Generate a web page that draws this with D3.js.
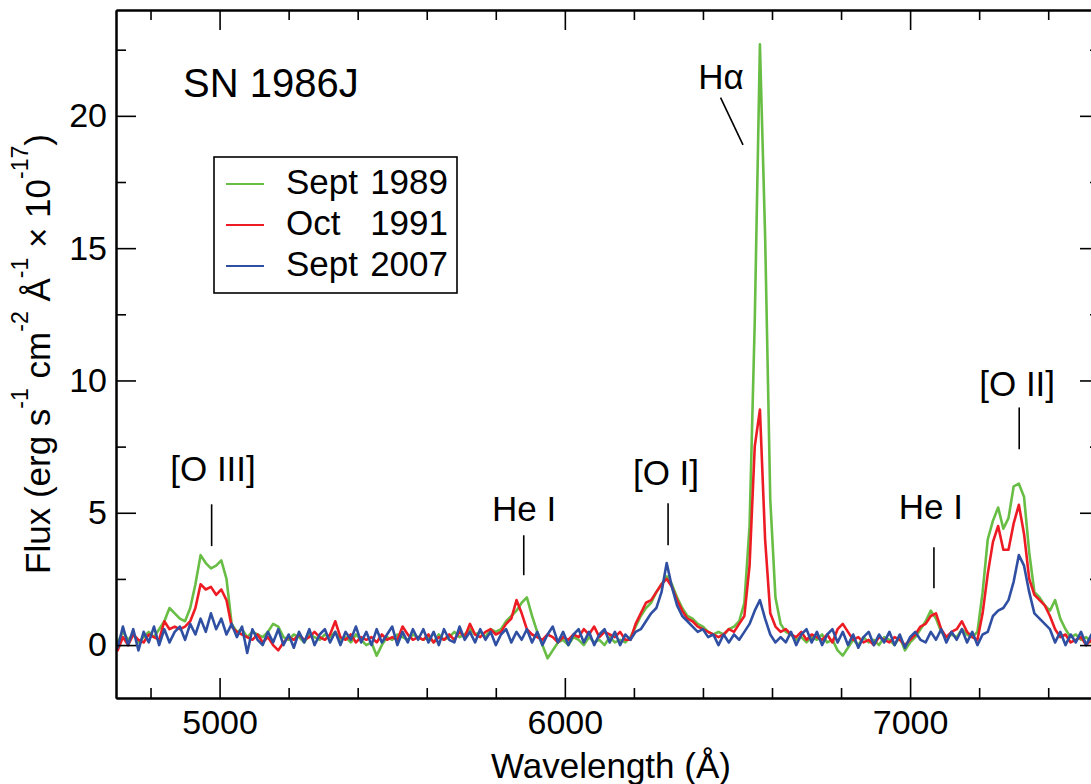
<!DOCTYPE html>
<html>
<head>
<meta charset="utf-8">
<script src="https://cdn.jsdelivr.net/npm/d3@7"></script>
<style>
  body { margin: 0; background: #fff; }
  svg { display: block; font-family: "Liberation Sans", Arial, Helvetica, sans-serif; }
</style>
</head>
<body>
<div id="chart"></div>
<script>
// wavelength grid (Å)
var wavelength = [
  4690,4705,4720,4735,4750,4765,4780,4795,4810,4825,
  4840,4855,4870,4885,4900,4915,4930,4945,4960,4975,
  4990,5005,5020,5035,5050,5065,5080,5095,5110,5125,
  5140,5155,5170,5185,5200,5215,5230,5245,5260,5275,
  5290,5305,5320,5335,5350,5365,5380,5395,5410,5425,
  5440,5455,5470,5485,5500,5515,5530,5545,5560,5575,
  5590,5605,5620,5635,5650,5665,5680,5695,5710,5725,
  5740,5755,5770,5785,5800,5815,5830,5845,5860,5875,
  5890,5905,5920,5935,5950,5965,5980,5995,6010,6025,
  6040,6055,6070,6085,6100,6115,6130,6145,6160,6175,
  6190,6205,6220,6235,6250,6265,6280,6295,6310,6325,
  6340,6355,6370,6385,6400,6415,6430,6445,6460,6475,
  6490,6505,6520,6535,6550,6565,6580,6595,6610,6625,
  6640,6655,6670,6685,6700,6715,6730,6745,6760,6775,
  6790,6805,6820,6835,6850,6865,6880,6895,6910,6925,
  6940,6955,6970,6985,7000,7015,7030,7045,7060,7075,
  7090,7105,7120,7135,7150,7165,7180,7195,7210,7225,
  7240,7255,7270,7285,7300,7315,7330,7345,7360,7375,
  7390,7405,7420,7435,7450,7465,7480,7495,7510,7525,
  7540,7555
];

// flux (erg s-1 cm-2 Å-1 x 1e-17)
var sept1989 = [
  0.3,0.1,0.5,0.2,0.4,0.1,0.3,0.5,0.3,0.6,
  0.9,1.4,1.2,1.0,0.9,1.4,2.3,3.4,3.1,2.9,
  3.0,3.2,2.5,0.8,0.5,0.6,0.3,0.5,0.4,0.3,
  0.5,0.8,0.7,0.3,0.2,0.4,0.3,0.1,0.4,0.3,
  0.2,0.4,0.3,0.5,0.2,0.3,0.1,0.4,0.2,0.0,
  0.1,-0.4,0.0,0.3,0.2,0.4,0.3,0.2,0.4,0.3,
  0.2,0.3,0.1,0.4,0.2,0.3,0.5,0.3,0.4,0.6,
  0.4,0.5,0.3,0.6,0.5,0.6,0.9,1.1,1.3,1.6,
  1.8,1.1,0.5,0.0,-0.5,-0.2,0.1,0.2,0.0,0.3,
  0.2,0.0,0.3,0.1,0.2,0.0,0.3,0.1,0.2,0.1,
  0.3,0.7,1.1,1.4,1.6,2.0,2.3,2.6,2.3,1.8,
  1.4,1.1,1.0,0.8,0.7,0.5,0.4,0.5,0.4,0.6,
  0.7,0.9,1.6,4.5,12.2,22.7,15.5,5.5,1.8,0.8,
  0.5,0.4,0.2,0.3,0.1,0.3,0.2,0.4,0.1,0.2,
  -0.2,-0.4,-0.1,0.2,0.0,0.3,0.1,0.2,0.0,0.3,
  0.2,0.0,0.3,-0.2,0.1,0.3,0.6,0.9,1.3,1.0,
  0.5,0.3,0.4,0.3,0.6,0.4,0.3,0.5,2.0,4.0,
  4.7,5.2,4.4,4.8,6.0,6.1,5.6,3.5,2.0,1.8,
  1.5,1.3,1.7,1.0,0.6,0.3,0.4,0.2,0.3,0.1,
  0.3,0.2
];
var oct1991 = [
  0.1,-0.2,0.3,0.0,0.4,0.2,0.1,0.4,0.3,0.2,
  0.9,0.6,0.7,0.6,0.7,0.9,1.4,2.3,2.1,2.2,
  1.9,2.1,1.7,0.7,0.5,0.4,0.3,0.2,0.4,0.1,
  0.3,0.0,-0.2,0.1,0.3,0.2,0.4,0.2,0.3,0.5,
  0.3,0.2,0.4,0.9,0.3,0.2,0.4,0.1,0.3,0.2,
  0.3,0.1,0.4,0.2,0.3,0.2,0.7,0.4,0.2,0.3,
  0.2,0.4,0.1,0.3,0.2,0.4,0.2,0.5,0.3,0.8,
  0.4,0.3,0.5,0.6,0.4,0.5,0.8,1.0,1.7,1.2,
  0.6,0.4,0.3,0.2,0.4,0.3,0.1,0.3,0.2,0.4,
  0.3,0.6,0.4,0.7,0.3,0.5,0.4,0.3,0.5,0.2,
  0.2,0.8,1.2,1.6,1.7,2.0,2.3,2.5,2.2,1.7,
  1.3,1.0,0.9,0.7,0.6,0.5,0.4,0.3,0.4,0.6,
  0.5,0.8,1.1,3.0,7.5,8.9,4.0,1.2,0.7,0.5,
  0.6,0.4,0.3,0.5,0.2,0.4,0.3,0.2,0.4,0.1,
  0.6,0.8,0.5,0.2,0.3,0.1,0.2,0.0,0.3,0.2,
  0.1,0.3,0.2,0.0,0.2,0.4,0.7,0.8,1.1,1.2,
  0.6,0.3,0.5,0.6,0.9,0.5,0.3,0.2,1.2,2.7,
  3.9,4.5,3.6,3.6,4.6,5.3,4.2,2.5,1.9,1.7,
  1.5,1.1,0.6,0.3,0.4,0.1,0.2,0.3,0.0,0.2,
  0.1,0.3
];
var sept2007 = [
  0.5,-0.1,0.7,0.0,0.6,-0.2,0.5,0.1,0.7,0.0,
  0.6,0.1,0.5,0.7,0.2,0.8,0.4,1.0,0.5,1.2,
  0.6,1.0,0.4,0.8,0.3,0.7,-0.3,0.6,0.2,0.0,
  0.5,0.1,0.6,0.0,0.4,-0.1,0.5,0.1,0.6,0.0,
  0.4,0.6,0.1,0.5,0.0,0.5,0.2,0.7,0.1,0.5,
  0.0,0.6,0.1,0.4,0.7,0.0,0.5,0.1,0.6,0.2,
  0.6,0.1,0.5,0.0,0.6,0.2,0.1,0.7,0.2,0.5,
  0.1,0.6,0.2,0.5,0.0,0.4,0.6,0.1,0.5,0.2,
  0.6,0.1,0.5,0.0,0.4,0.7,0.1,0.5,0.0,0.4,
  0.6,0.1,0.5,0.0,0.4,0.6,0.1,0.5,0.0,0.4,
  0.2,0.5,0.6,0.9,1.2,1.4,2.0,3.1,2.2,1.5,
  1.1,0.9,0.7,0.5,0.6,0.3,0.4,0.0,0.4,0.1,
  0.4,0.2,0.5,0.8,1.3,1.7,1.0,0.4,0.1,0.3,
  0.1,0.5,0.0,0.4,0.6,0.1,0.5,0.0,0.4,0.6,
  0.1,0.5,0.0,0.4,-0.1,0.3,0.5,0.0,0.4,0.1,
  0.5,0.0,0.4,-0.1,0.3,0.5,0.2,0.1,0.5,0.2,
  0.6,0.1,0.5,0.2,0.6,0.1,0.5,0.0,0.4,0.5,
  1.1,1.3,1.4,1.7,2.4,3.4,3.0,2.0,1.2,1.0,
  0.8,0.6,0.1,0.5,0.0,0.4,0.1,0.5,0.0,0.4,
  0.1,-0.1
];

var legendMonths = ["Sept", "Oct", "Sept"];
var legendYears = ["1989", "1991", "2007"];
var seriesColors = ["#68bd45", "#ed1c24", "#2f4fa2"];

var xMajor = [5000, 6000, 7000];
var xMinor = [4800, 5200, 5400, 5600, 5800, 6200, 6400, 6600, 6800, 7200, 7400];
var yMajor = [0, 5, 10, 15, 20];
var yMinor = [2.5, 7.5, 12.5, 17.5, 22.5];

// line identifications: label, label position, marker line (data units)
var lineIds = [
  {label: "[O III]", lx: 4981, ly: 6.19, x1: 4977, y1: 5.32, x2: 4977, y2: 3.74},
  {label: "He I",    lx: 5882, ly: 4.68, x1: 5881, y1: 4.15, x2: 5881, y2: 2.64},
  {label: "[O I]",   lx: 6293, ly: 6.04, x1: 6299, y1: 5.36, x2: 6299, y2: 3.77},
  {label: "H\u03b1", lx: 6452, ly: 21.0, x1: 6451, y1: 20.69, x2: 6516, y2: 18.9},
  {label: "He I",    lx: 7060, ly: 4.75, x1: 7069, y1: 3.7,  x2: 7069, y2: 2.15},
  {label: "[O II]",  lx: 7310, ly: 9.43, x1: 7316, y1: 8.98, x2: 7316, y2: 7.4}
];

var W = 1091, H = 784;
var margin = {top: 10, right: -9, bottom: 86, left: 116},
    width = W - margin.left - margin.right,
    height = H - margin.top - margin.bottom;

var svg = d3.select("#chart")
  .append("svg")
    .attr("width", W)
    .attr("height", H)
  .append("g")
    .attr("transform", "translate(" + margin.left + "," + margin.top + ")");

var x = d3.scaleLinear().domain([4700, 7550]).range([0, width]);
var y = d3.scaleLinear().domain([-2, 24]).range([height, 0]);

svg.append("defs").append("clipPath").attr("id", "plotclip")
  .append("rect").attr("width", width).attr("height", height);

// spectra
var series = [sept1989, oct1991, sept2007];
var line = d3.line()
  .x(function(d) { return x(d[0]); })
  .y(function(d) { return y(d[1]); });

svg.append("g")
    .attr("clip-path", "url(#plotclip)")
  .selectAll("path")
  .data(series)
  .enter()
  .append("path")
    .attr("d", function(s) { return line(wavelength.map(function(w, i) { return [w, s[i]]; })); })
    .attr("fill", "none")
    .attr("stroke", function(s, i) { return seriesColors[i]; })
    .attr("stroke-width", 2.6)
    .attr("stroke-linejoin", "round");

// axes, ticks all pointing inwards
function styleAxis(g, labels) {
  g.select(".domain").attr("stroke-width", 2);
  g.selectAll(".tick line").attr("stroke-width", 1.6);
  g.selectAll(".tick text").attr("font-size", 34).attr("fill", "#000");
  if (!labels) g.selectAll(".tick text").remove();
}

svg.append("g")
    .attr("transform", "translate(0," + height + ")")
    .call(d3.axisBottom(x).tickValues(xMajor).tickSize(-20).tickSizeOuter(0).tickPadding(12).tickFormat(d3.format("d")))
    .call(styleAxis, true);
svg.append("g")
    .attr("transform", "translate(0," + height + ")")
    .call(d3.axisBottom(x).tickValues(xMinor).tickSize(-10).tickSizeOuter(0))
    .call(styleAxis, false);
svg.append("g")
    .call(d3.axisTop(x).tickValues(xMajor).tickSize(-20).tickSizeOuter(0))
    .call(styleAxis, false);
svg.append("g")
    .call(d3.axisTop(x).tickValues(xMinor).tickSize(-10).tickSizeOuter(0))
    .call(styleAxis, false);

svg.append("g")
    .call(d3.axisLeft(y).tickValues(yMajor).tickSize(-20).tickSizeOuter(0).tickPadding(9))
    .call(styleAxis, true);
svg.append("g")
    .call(d3.axisLeft(y).tickValues(yMinor).tickSize(-10).tickSizeOuter(0))
    .call(styleAxis, false);
svg.append("g")
    .attr("transform", "translate(" + width + ",0)")
    .call(d3.axisRight(y).tickValues(yMajor).tickSize(-20).tickSizeOuter(0))
    .call(styleAxis, false);
svg.append("g")
    .attr("transform", "translate(" + width + ",0)")
    .call(d3.axisRight(y).tickValues(yMinor).tickSize(-10).tickSizeOuter(0))
    .call(styleAxis, false);

// axis titles
svg.append("text")
    .attr("x", 495)
    .attr("y", height + 80)
    .attr("text-anchor", "middle")
    .attr("font-size", 35)
    .text("Wavelength (\u00c5)");

var ylab = svg.append("text")
    .attr("transform", "translate(" + (50 - margin.left) + "," + 344 + ") rotate(-90)")
    .attr("text-anchor", "middle")
    .attr("font-size", 35);
var yParts = [["Flux (erg s", 0], ["-1", 1], [" cm", 0], ["-2", 1], [" \u00c5", 0], ["-1", 1], [" \u00d7 10", 0], ["-17", 1], [")", 0]];
var prevSup = 0;
yParts.forEach(function(p) {
  var t = ylab.append("tspan").text(p[0]);
  if (p[1]) t.attr("font-size", 23);
  var shift = (p[1] - prevSup) * -22;
  if (shift) t.attr("dy", shift);
  prevSup = p[1];
});

// object name
svg.append("text")
    .attr("x", 183 - margin.left)
    .attr("y", 97 - margin.top)
    .attr("font-size", 40)
    .text("SN 1986J");

// legend
var legend = svg.append("g").attr("transform", "translate(" + (214 - margin.left) + "," + (157 - margin.top) + ")");
legend.append("rect")
    .attr("width", 243).attr("height", 136)
    .attr("fill", "#fff").attr("stroke", "#000").attr("stroke-width", 1.6);
var rows = legend.selectAll("g.row")
  .data(legendMonths)
  .enter().append("g")
    .attr("class", "row")
    .attr("transform", function(d, i) { return "translate(0," + (27 + i * 41) + ")"; });
rows.append("line")
    .attr("x1", 12).attr("x2", 50)
    .attr("stroke", function(d, i) { return seriesColors[i]; })
    .attr("stroke-width", 2);
rows.append("text")
    .attr("x", 72).attr("y", 10)
    .attr("font-size", 35)
    .text(function(d) { return d; });
rows.append("text")
    .attr("x", 234).attr("y", 10)
    .attr("text-anchor", "end")
    .attr("font-size", 35)
    .text(function(d, i) { return legendYears[i]; });

// line identifications
var ids = svg.append("g");
ids.selectAll("text")
  .data(lineIds)
  .enter().append("text")
    .attr("x", function(d) { return x(d.lx); })
    .attr("y", function(d) { return y(d.ly); })
    .attr("text-anchor", "middle")
    .attr("font-size", 35)
    .text(function(d) { return d.label; });
ids.selectAll("line")
  .data(lineIds)
  .enter().append("line")
    .attr("x1", function(d) { return x(d.x1); })
    .attr("y1", function(d) { return y(d.y1); })
    .attr("x2", function(d) { return x(d.x2); })
    .attr("y2", function(d) { return y(d.y2); })
    .attr("stroke", "#000")
    .attr("stroke-width", 1.6);
</script>
</body>
</html>
